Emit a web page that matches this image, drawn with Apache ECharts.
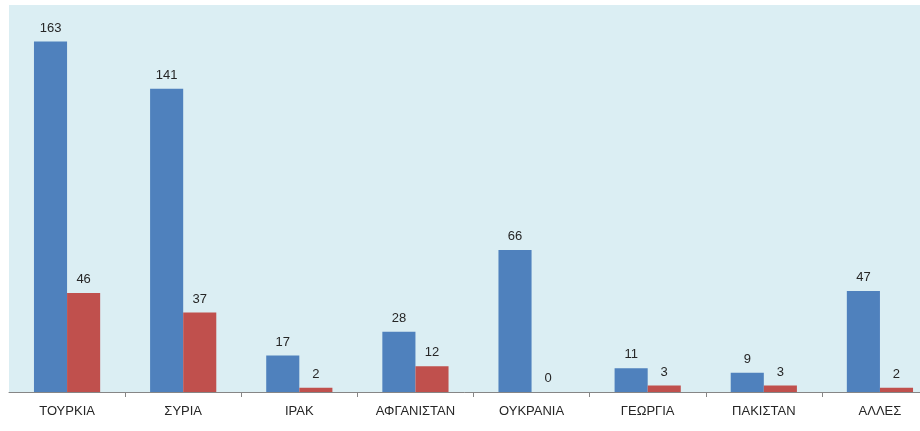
<!DOCTYPE html>
<html>
<head>
<meta charset="utf-8">
<script src="https://cdn.jsdelivr.net/npm/echarts@6/dist/echarts.min.js"></script>
<style>
  html, body { margin: 0; padding: 0; background: #ffffff; }
  #chart { width: 920px; height: 431px; }
</style>
</head>
<body>
<div id="chart"></div>
<script>
// Countries of origin
const categories = ['ΤΟΥΡΚΙΑ', 'ΣΥΡΙΑ', 'ΙΡΑΚ', 'ΑΦΓΑΝΙΣΤΑΝ', 'ΟΥΚΡΑΝΙΑ', 'ΓΕΩΡΓΙΑ', 'ΠΑΚΙΣΤΑΝ', 'ΑΛΛΕΣ'];
// First series (blue)
const seriesA = [163, 141, 17, 28, 66, 11, 9, 47];
// Second series (red)
const seriesB = [46, 37, 2, 12, 0, 3, 3, 2];

const labelStyle = {
  show: true,
  position: 'top',
  distance: 7,
  color: '#262626',
  fontSize: 13,
  fontFamily: 'Liberation Sans, Arial, sans-serif'
};

const chart = echarts.init(document.getElementById('chart'), null, { renderer: 'canvas' });
chart.setOption({
  animation: false,
  backgroundColor: '#ffffff',
  grid: {
    left: 9,
    top: 5,
    width: 929,
    bottom: 39,
    outerBoundsMode: 'none',
    containLabel: false,
    show: true,
    backgroundColor: '#dbeef3',
    borderWidth: 0
  },
  xAxis: {
    type: 'category',
    data: categories,
    axisLine: { lineStyle: { color: '#868686', width: 1 } },
    axisTick: {
      show: true,
      length: 5,
      interval: (i) => i !== 0,
      lineStyle: { color: '#868686' }
    },
    axisLabel: {
      color: '#262626',
      fontSize: 13,
      margin: 13,
      interval: 0,
      fontFamily: 'Liberation Sans, Arial, sans-serif'
    }
  },
  yAxis: {
    type: 'value',
    min: 0,
    max: 180,
    show: false,
    splitLine: { show: false }
  },
  series: [
    {
      type: 'bar',
      data: seriesA,
      barGap: '0%',
      barCategoryGap: '43%',
      itemStyle: { color: '#4f81bd' },
      label: labelStyle
    },
    {
      type: 'bar',
      data: seriesB,
      itemStyle: { color: '#c0504d' },
      label: labelStyle
    }
  ]
});
</script>
</body>
</html>
